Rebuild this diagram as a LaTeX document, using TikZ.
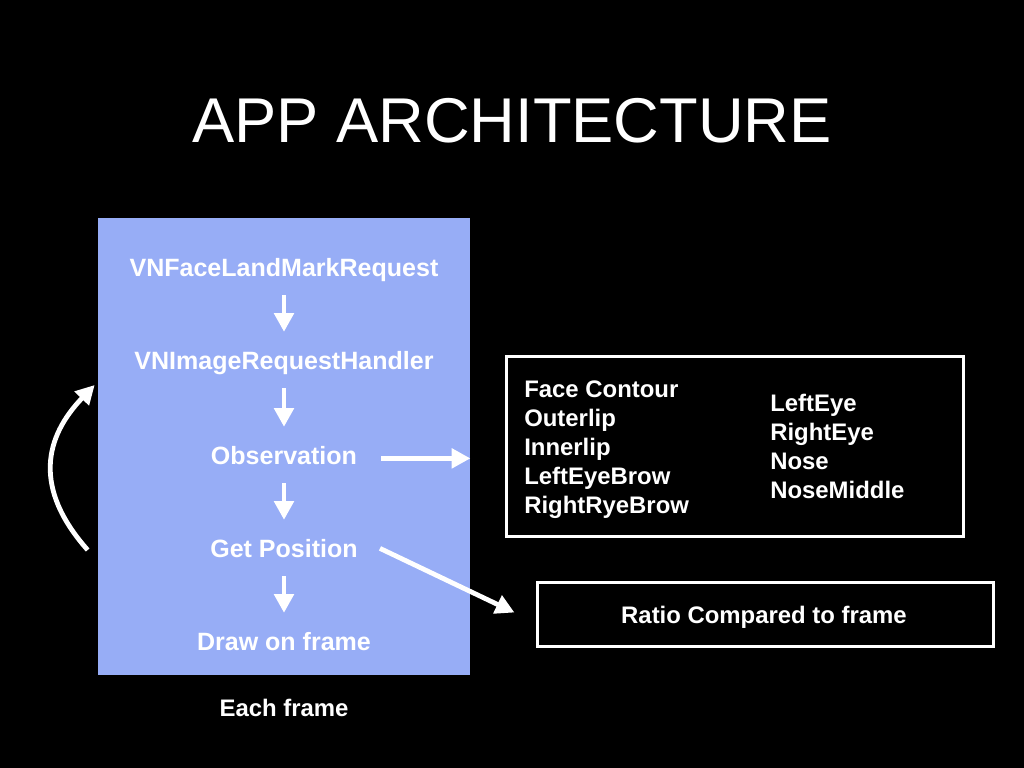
\documentclass[tikz,border=0pt]{standalone}
\usepackage{fontspec}
\setmainfont{Liberation Sans}
\usetikzlibrary{positioning,arrows.meta}
\definecolor{framebg}{RGB}{151,173,246}

\tikzset{
  step text/.style={text=white, inner sep=0, text height=12pt, text depth=4pt, font=\fontsize{17.8}{20.6}\selectfont\bfseries},
  list text/.style={text=white, inner sep=0, font=\fontsize{17}{20.6}\selectfont\bfseries},
  wide arrow/.style={draw=white, line width=0.12cm, -{Triangle[length=0.47cm,width=0.48cm]}},
  list box/.style={draw=white, line width=0.075cm, inner sep=0},
}

\begin{document}
\begin{tikzpicture}[x=0.025cm,y=-0.025cm]
    \fill[black] (0,0) rectangle (1024,768);
    \useasboundingbox (0,0) rectangle (1024,768);
    \node(title)[text=white, font=\fontsize{45}{54}\selectfont] at (512,121) {APP ARCHITECTURE};
    % per-frame pipeline
    \node(frame)[fill=framebg, minimum width=9.3cm, minimum height=11.425cm, inner sep=0] at (284,446.5) {};
    \node(req)[step text, anchor=base] at (284,276) {VNFaceLandMarkRequest};
    \node(handler)[step text, anchor=base] at (284,369) {VNImageRequestHandler};
    \node(obs)[step text, anchor=base] at (284,464) {Observation};
    \node(getpos)[step text, anchor=base] at (284,557) {Get Position};
    \node(draw)[step text, anchor=base] at (284,650) {Draw on frame};
    \node(each)[list text, anchor=base] at (284,716) {Each frame};
    \draw[wide arrow, shorten <=0.335cm, shorten >=0.5cm] (req.south) -- (handler.north);
    \draw[wide arrow, shorten <=0.335cm, shorten >=0.5cm] (handler.south) -- (obs.north);
    \draw[wide arrow, shorten <=0.335cm, shorten >=0.5cm] (obs.south) -- (getpos.north);
    \draw[wide arrow, shorten <=0.335cm, shorten >=0.5cm] (getpos.south) -- (draw.north);
    % landmarks
    \node(landmarks)[list box, minimum width=11.4cm, minimum height=4.475cm] at (735,446.5) {};
    \foreach \name [count=\i from 0] in {Face Contour, Outerlip, Innerlip, LeftEyeBrow, RightRyeBrow}
      \node(lmA\i)[list text, anchor=base west] at (524,{397+29*\i}) {\name};
    \foreach \name [count=\i from 0] in {LeftEye, RightEye, Nose, NoseMiddle}
      \node(lmB\i)[list text, anchor=base west] at (770,{411+29*\i}) {\name};
    \node(ratio)[list box, minimum width=11.375cm, minimum height=1.575cm] at (765.5,614.5) {};
    \node(ratiotext)[list text, anchor=base] at (764,623) {Ratio Compared to frame};
    \draw[wide arrow, shorten <=0.6cm, shorten >=0.875cm] (obs.east) -- (obs.east -| landmarks.west);
    \draw[wide arrow] ([shift={(22,-3)}]getpos.east) -- ([shift={(-22,-2)}]ratio.west);
    % loop back
    \draw[wide arrow] ([shift={(-10,103.5)}]frame.west) .. controls +(-55,-62) and +(-50,52) .. ([shift={(-3,-61.5)}]frame.west);
\end{tikzpicture}
\end{document}
